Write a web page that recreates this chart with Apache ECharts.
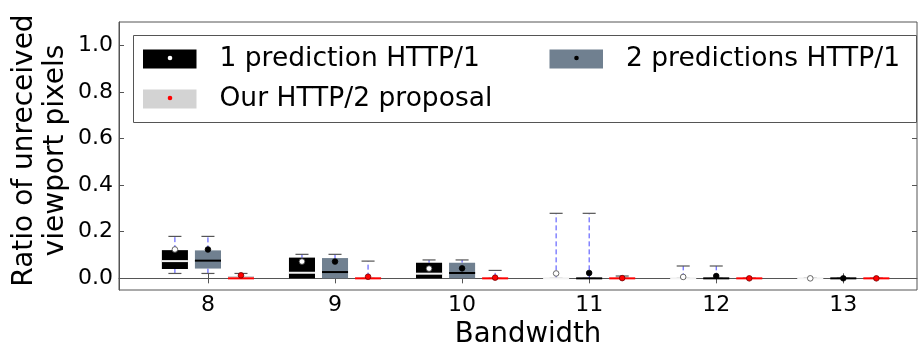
<!DOCTYPE html>
<html>
<head>
<meta charset="utf-8">
<script src="https://cdn.jsdelivr.net/npm/echarts@6/dist/echarts.min.js"></script>
<style>
html,body{margin:0;padding:0;background:#fff;}
#chart{width:919px;height:346px;}
</style>
</head>
<body>
<div id="chart"></div>
<script>
// ---- data ----
const bandwidths = [8, 9, 10, 11, 12, 13];
const yTicks = [0.0, 0.2, 0.4, 0.6, 0.8, 1.0];
const seriesNames = ['1 prediction HTTP/1', '2 predictions HTTP/1', 'Our HTTP/2 proposal'];
// each box: [lower whisker, Q1, median, Q3, upper whisker]
const onePredictionBoxes = [
  [0.021, 0.040, 0.074, 0.121, 0.180],
  [0.000, 0.000, 0.024, 0.089, 0.103],
  [0.000, 0.000, 0.020, 0.067, 0.079],
  [0.000, 0.000, 0.000, 0.000, 0.279],
  [0.000, 0.000, 0.000, 0.000, 0.053],
  [0.000, 0.000, 0.000, 0.000, 0.000]
];
const onePredictionMeans = [0.124, 0.072, 0.042, 0.021, 0.006, 0.000];
const twoPredictionsBoxes = [
  [0.021, 0.042, 0.076, 0.120, 0.180],
  [0.000, 0.000, 0.027, 0.087, 0.103],
  [0.000, 0.000, 0.023, 0.067, 0.079],
  [0.000, 0.000, 0.000, 0.000, 0.279],
  [0.000, 0.000, 0.000, 0.000, 0.053],
  [0.000, 0.000, 0.000, 0.000, 0.000]
];
const twoPredictionsMeans = [0.124, 0.072, 0.043, 0.023, 0.010, 0.000];
const http2Boxes = [
  [0.000, 0.000, 0.000, 0.010, 0.021],
  [0.000, 0.000, 0.000, 0.003, 0.074],
  [0.000, 0.000, 0.000, 0.002, 0.034],
  [0.000, 0.000, 0.000, 0.002, 0.010],
  [0.000, 0.000, 0.000, 0.000, 0.000],
  [0.000, 0.000, 0.000, 0.000, 0.000]
];
const http2Means = [0.013, 0.007, 0.003, 0.001, 0.000, 0.000];

// ---- styles ----
const FONT = 'DejaVu Sans';
const styles = [
  {offset: -0.26, face: '#000000', median: '#f2f2f2', meanFill: '#ffffff', meanStroke: '#444'},
  {offset: 0.0, face: '#708090', median: '#000000', meanFill: '#000000', meanStroke: '#000'},
  {offset: 0.26, face: '#d3d3d3', median: '#ff0000', meanFill: '#ff0000', meanStroke: '#700'}
];
const boxSets = [onePredictionBoxes, twoPredictionsBoxes, http2Boxes];
const meanSets = [onePredictionMeans, twoPredictionsMeans, http2Means];

function makeSeries(idx) {
  const st = styles[idx];
  const data = bandwidths.map((b, i) => [b + st.offset].concat(boxSets[idx][i], [meanSets[idx][i]]));
  return {
    type: 'custom',
    name: seriesNames[idx],
    itemStyle: {color: st.face},
    data: data,
    encode: {x: 0, y: [1, 2, 3, 4, 5, 6]},
    renderItem: function (params, api) {
      const x = api.value(0);
      const low = api.value(1), q1 = api.value(2), med = api.value(3), q3 = api.value(4), high = api.value(5), mean = api.value(6);
      const w = api.size([0.205, 0])[0];
      const cx = api.coord([x, 0])[0];
      const yOf = v => api.coord([x, v])[1];
      const ch = [];
      const whisk = {stroke: '#4646ff', lineWidth: 1, lineDash: [5, 3]};
      if (q1 > low) ch.push({type: 'line', shape: {x1: cx, y1: yOf(low), x2: cx, y2: yOf(q1)}, style: whisk});
      if (high > q3) ch.push({type: 'line', shape: {x1: cx, y1: yOf(q3), x2: cx, y2: yOf(high)}, style: whisk});
      const cap = {stroke: '#555', lineWidth: 1.2};
      ch.push({type: 'line', shape: {x1: cx - w / 4, y1: yOf(low), x2: cx + w / 4, y2: yOf(low)}, style: cap});
      ch.push({type: 'line', shape: {x1: cx - w / 4, y1: yOf(high), x2: cx + w / 4, y2: yOf(high)}, style: cap});
      if (q3 > q1) ch.push({type: 'rect', shape: {x: cx - w / 2, y: yOf(q3), width: w, height: yOf(q1) - yOf(q3)}, style: {fill: st.face}});
      ch.push({type: 'line', shape: {x1: cx - w / 2, y1: yOf(med), x2: cx + w / 2, y2: yOf(med)}, style: {stroke: st.median, lineWidth: 2}});
      ch.push({type: 'circle', shape: {cx: cx, cy: yOf(mean), r: 2.8}, style: {fill: st.meanFill, stroke: st.meanStroke, lineWidth: 0.8}});
      return {type: 'group', children: ch};
    },
    z: 2
  };
}

const chart = echarts.init(document.getElementById('chart'), null, {renderer: 'canvas'});
const tickFmt = v => Number(v).toFixed(1);
const legendCommon = {
  padding: 0, itemWidth: 53.5, itemHeight: 19, icon: 'rect', selectedMode: false, orient: 'horizontal',
  textStyle: {fontFamily: FONT, fontSize: 26.5, lineHeight: 19, color: '#000', padding: [0, 0, 0, 18]}
};
const option = {
  animation: false,
  backgroundColor: '#fff',
  grid: {left: 119, right: 2, top: 22, bottom: 56, show: true, borderColor: '#555', borderWidth: 1, backgroundColor: 'transparent', outerBoundsMode: 'none', containLabel: false},
  xAxis: [
    {
      type: 'value', min: 7.3, max: 13.58, position: 'bottom',
      name: 'Bandwidth', nameLocation: 'middle', nameGap: 31, nameMoveOverlap: false,
      nameTextStyle: {fontFamily: FONT, fontSize: 27.5, lineHeight: 28, color: '#000', padding: [0, 0, 0, 20]},
      axisLine: {show: true, lineStyle: {color: '#555'}},
      axisTick: {show: true, inside: true, length: 5, lineStyle: {color: '#555'}, customValues: bandwidths},
      axisLabel: {fontFamily: FONT, fontSize: 22, lineHeight: 22, color: '#000', margin: 4, customValues: bandwidths, formatter: v => String(v)},
      splitLine: {show: false}
    },
    {
      type: 'value', min: 7.3, max: 13.58, position: 'top',
      axisLine: {show: false},
      axisTick: {show: true, inside: true, length: 5, lineStyle: {color: '#555'}, customValues: bandwidths},
      axisLabel: {show: false},
      splitLine: {show: false}
    }
  ],
  yAxis: [
    {
      type: 'value', min: -0.05, max: 1.1, position: 'left',
      name: 'Ratio of unreceived\nviewport pixels', nameLocation: 'middle', nameRotate: 90, nameGap: 48, nameMoveOverlap: false,
      nameTextStyle: {fontFamily: FONT, fontSize: 28, lineHeight: 31, color: '#000', align: 'center', padding: [0, 0, 0, 11]},
      axisLine: {show: true, lineStyle: {color: '#555'}},
      axisTick: {show: true, inside: true, length: 5, lineStyle: {color: '#555'}, customValues: yTicks},
      axisLabel: {fontFamily: FONT, fontSize: 22, color: '#000', margin: 6, customValues: yTicks, formatter: tickFmt},
      splitLine: {show: false}
    },
    {
      type: 'value', min: -0.05, max: 1.1, position: 'right',
      axisLine: {show: false},
      axisTick: {show: true, inside: true, length: 5, lineStyle: {color: '#555'}, customValues: yTicks},
      axisLabel: {show: false},
      splitLine: {show: false}
    }
  ],
  legend: [
    Object.assign({}, legendCommon, {data: [seriesNames[0]], left: 143, top: 45.5}),
    Object.assign({}, legendCommon, {data: [seriesNames[1]], left: 549.5, top: 45.5}),
    Object.assign({}, legendCommon, {data: [seriesNames[2]], left: 143, top: 85.5})
  ],
  graphic: [
    {type: 'rect', z: 3, shape: {x: 133.5, y: 35.5, width: 783, height: 87}, style: {fill: '#fff', stroke: '#555', lineWidth: 1}},
    {type: 'circle', z: 100, shape: {cx: 170, cy: 58, r: 2.3}, style: {fill: '#fff'}},
    {type: 'circle', z: 100, shape: {cx: 576.5, cy: 58, r: 2.3}, style: {fill: '#000'}},
    {type: 'circle', z: 100, shape: {cx: 170, cy: 98, r: 2.3}, style: {fill: '#ff0000'}}
  ],
  series: [makeSeries(0), makeSeries(1), makeSeries(2)]
};
chart.setOption(option);
</script>
</body>
</html>
